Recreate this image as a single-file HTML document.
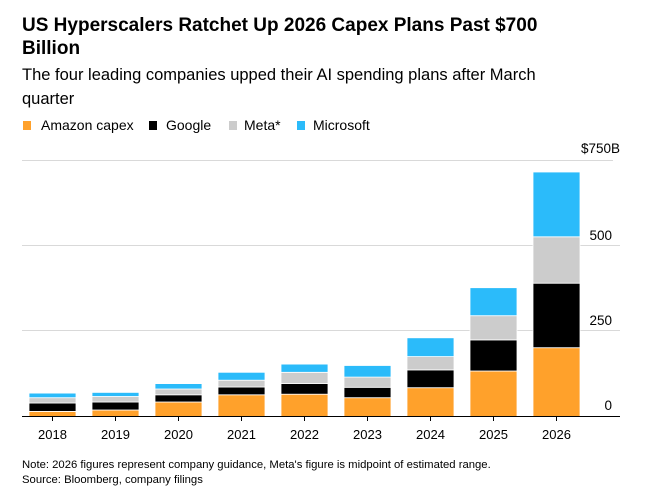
<!DOCTYPE html>
<html><head><meta charset="utf-8"><style>
body{margin:0;background:#fff;}
svg{display:block;font-family:"Liberation Sans",Arial,sans-serif;}
</style></head><body>
<svg width="645" height="498" viewBox="0 0 645 498">
<text x="22" y="31" font-size="19" font-weight="bold" fill="#000">US Hyperscalers Ratchet Up 2026 Capex Plans Past $700</text>
<text x="22" y="54" font-size="19" font-weight="bold" fill="#000">Billion</text>
<text x="22" y="80" font-size="16.5" fill="#000">The four leading companies upped their AI spending plans after March</text>
<text x="22" y="104" font-size="16.5" fill="#000">quarter</text>
<rect x="23" y="121" width="8" height="9" fill="#FFA12B"/><text x="41" y="130" font-size="14">Amazon capex</text>
<rect x="149" y="121" width="8" height="9" fill="#000"/><text x="166" y="130" font-size="14">Google</text>
<rect x="229" y="121" width="8" height="9" fill="#CCCCCC"/><text x="244" y="130" font-size="14">Meta*</text>
<rect x="297" y="121" width="8" height="9" fill="#2BBBFA"/><text x="313" y="130" font-size="14">Microsoft</text>

<g stroke="#d9d9d9" stroke-width="1">
<line x1="22" y1="160.5" x2="613" y2="160.5"/>
<line x1="22" y1="245.5" x2="620" y2="245.5"/>
<line x1="22" y1="330.5" x2="620" y2="330.5"/>
</g>
<g font-size="13.5" text-anchor="end" fill="#000">
<text x="620" y="153">$750B</text>
<text x="612" y="240">500</text>
<text x="612" y="325">250</text>
<text x="612" y="410">0</text>
</g>

<g stroke="#fff" stroke-width="0.8">
<!-- 2018 -->
<rect x="29" y="411.4" width="47" height="5.1" fill="#FFA12B"/>
<rect x="29" y="403.0" width="47" height="8.4" fill="#000"/>
<rect x="29" y="397.7" width="47" height="5.3" fill="#CCCCCC"/>
<rect x="29" y="393.1" width="47" height="4.6" fill="#2BBBFA"/>
<!-- 2019 -->
<rect x="92" y="410.0" width="47" height="6.5" fill="#FFA12B"/>
<rect x="92" y="402.0" width="47" height="8.0" fill="#000"/>
<rect x="92" y="396.5" width="47" height="5.5" fill="#CCCCCC"/>
<rect x="92" y="392.4" width="47" height="4.1" fill="#2BBBFA"/>
<!-- 2020 -->
<rect x="155" y="402.0" width="47" height="14.5" fill="#FFA12B"/>
<rect x="155" y="394.8" width="47" height="7.2" fill="#000"/>
<rect x="155" y="389.0" width="47" height="5.8" fill="#CCCCCC"/>
<rect x="155" y="383.6" width="47" height="5.4" fill="#2BBBFA"/>
<!-- 2021 -->
<rect x="218" y="394.8" width="47" height="21.7" fill="#FFA12B"/>
<rect x="218" y="387.0" width="47" height="7.8" fill="#000"/>
<rect x="218" y="380.2" width="47" height="6.8" fill="#CCCCCC"/>
<rect x="218" y="372.3" width="47" height="7.9" fill="#2BBBFA"/>
<!-- 2022 -->
<rect x="281" y="394.2" width="47" height="22.3" fill="#FFA12B"/>
<rect x="281" y="383.6" width="47" height="10.6" fill="#000"/>
<rect x="281" y="372.3" width="47" height="11.3" fill="#CCCCCC"/>
<rect x="281" y="364.1" width="47" height="8.2" fill="#2BBBFA"/>
<!-- 2023 -->
<rect x="344" y="397.7" width="47" height="18.8" fill="#FFA12B"/>
<rect x="344" y="387.3" width="47" height="10.4" fill="#000"/>
<rect x="344" y="377.1" width="47" height="10.2" fill="#CCCCCC"/>
<rect x="344" y="365.5" width="47" height="11.6" fill="#2BBBFA"/>
<!-- 2024 -->
<rect x="407" y="387.7" width="47" height="28.8" fill="#FFA12B"/>
<rect x="407" y="369.9" width="47" height="17.8" fill="#000"/>
<rect x="407" y="356.6" width="47" height="13.3" fill="#CCCCCC"/>
<rect x="407" y="337.8" width="47" height="18.8" fill="#2BBBFA"/>
<!-- 2025 -->
<rect x="470" y="371.0" width="47" height="45.5" fill="#FFA12B"/>
<rect x="470" y="339.9" width="47" height="31.1" fill="#000"/>
<rect x="470" y="315.7" width="47" height="24.2" fill="#CCCCCC"/>
<rect x="470" y="287.7" width="47" height="28.0" fill="#2BBBFA"/>
<!-- 2026 -->
<rect x="533" y="347.7" width="47" height="68.8" fill="#FFA12B"/>
<rect x="533" y="283.2" width="47" height="64.5" fill="#000"/>
<rect x="533" y="236.8" width="47" height="46.4" fill="#CCCCCC"/>
<rect x="533" y="172.0" width="47" height="64.8" fill="#2BBBFA"/>
</g>

<line x1="22" y1="416.5" x2="620" y2="416.5" stroke="#000" stroke-width="1"/>
<g stroke="#000" stroke-width="1">
<line x1="52.5" y1="417" x2="52.5" y2="421"/>
<line x1="115.5" y1="417" x2="115.5" y2="421"/>
<line x1="178.5" y1="417" x2="178.5" y2="421"/>
<line x1="241.5" y1="417" x2="241.5" y2="421"/>
<line x1="304.5" y1="417" x2="304.5" y2="421"/>
<line x1="367.5" y1="417" x2="367.5" y2="421"/>
<line x1="430.5" y1="417" x2="430.5" y2="421"/>
<line x1="493.5" y1="417" x2="493.5" y2="421"/>
<line x1="556.5" y1="417" x2="556.5" y2="421"/>
</g>
<g font-size="13" text-anchor="middle" fill="#000">
<text x="52.5" y="439">2018</text>
<text x="115.5" y="439">2019</text>
<text x="178.5" y="439">2020</text>
<text x="241.5" y="439">2021</text>
<text x="304.5" y="439">2022</text>
<text x="367.5" y="439">2023</text>
<text x="430.5" y="439">2024</text>
<text x="493.5" y="439">2025</text>
<text x="556.5" y="439">2026</text>
</g>
<text x="22" y="468" font-size="11.3" fill="#000">Note: 2026 figures represent company guidance, Meta's figure is midpoint of estimated range.</text>
<text x="22" y="483" font-size="11.3" fill="#000">Source: Bloomberg, company filings</text>
</svg>
</body></html>
